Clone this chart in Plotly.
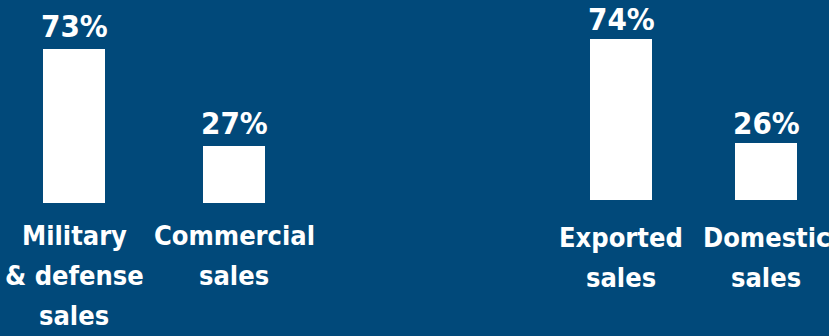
import plotly.graph_objects as go

# Data
left_categories = ["Military<br>& defense<br>sales", "Commercial<br>sales"]
left_values = [73, 27]
right_categories = ["Exported<br>sales", "Domestic<br>sales"]
right_values = [74, 26]

BG = "#01497A"
FONT = "DejaVu Sans Condensed, DejaVu Sans, sans-serif"
LINE_STEP = 40  # px between label lines

fig = go.Figure()

left_x = list(range(len(left_values)))
right_x = list(range(len(right_values)))

fig.add_trace(go.Bar(x=left_x, y=left_values, width=0.3875, marker=dict(color="white", line=dict(width=0)),
                     xaxis="x", yaxis="y", hoverinfo="skip"))
fig.add_trace(go.Bar(x=right_x, y=right_values, width=0.4276, marker=dict(color="white", line=dict(width=0)),
                     xaxis="x2", yaxis="y2", hoverinfo="skip"))

annotations = []
for xs, vals, cats, ax, ay in [(left_x, left_values, left_categories, "x", "y"),
                               (right_x, right_values, right_categories, "x2", "y2")]:
    shift_cat = -15 if ax == "x" else -20
    shift_val = 3 if ax == "x" else 0
    for x, v, c in zip(xs, vals, cats):
        annotations.append(dict(x=x, y=v, xref=ax, yref=ay, text=f"<b>{v}%</b>", showarrow=False,
                                yanchor="bottom", xanchor="center", yshift=shift_val,
                                font=dict(family=FONT, size=31, color="white")))
        for i, line in enumerate(c.split("<br>")):
            annotations.append(dict(x=x, y=0, xref=ax, yref=ay, text=f"<b>{line}</b>", showarrow=False,
                                    yanchor="top", xanchor="center", yshift=shift_cat - LINE_STEP * i,
                                    font=dict(family=FONT, size=27, color="white")))

hidden = dict(showgrid=False, zeroline=False, showticklabels=False, showline=False, ticks="", fixedrange=True)

fig.update_layout(
    width=829, height=336,
    margin=dict(l=0, r=0, t=0, b=0),
    paper_bgcolor=BG, plot_bgcolor=BG,
    showlegend=False,
    bargap=0,
    xaxis=dict(domain=[0, 0.4], range=[-0.4625, 1.6100], anchor="y", **hidden),
    yaxis=dict(domain=[0, 1], range=[-63.03, 96.21], anchor="x", **hidden),
    xaxis2=dict(domain=[0.6, 1], range=[-0.8524, 1.4345], anchor="y2", **hidden),
    yaxis2=dict(domain=[0, 1], range=[-62.39, 91.74], anchor="x2", **hidden),
    annotations=annotations,
)

fig.write_html("out.html")
